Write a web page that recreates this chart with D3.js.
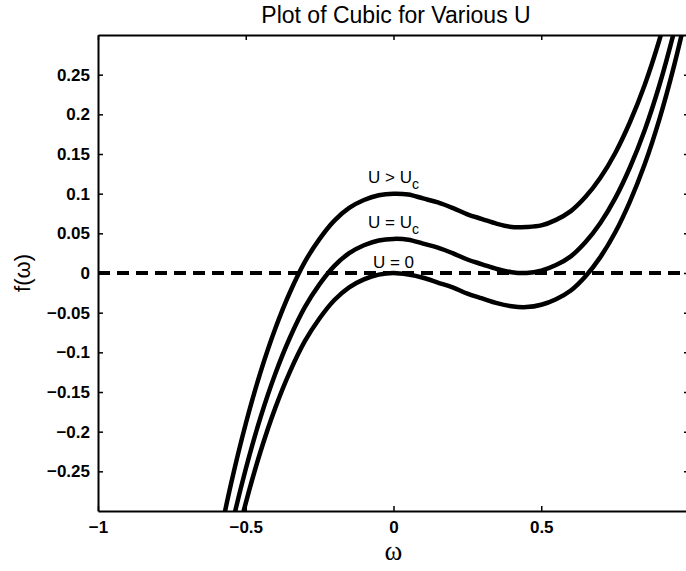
<!DOCTYPE html>
<html>
<head>
<meta charset="utf-8">
<script src="https://cdn.jsdelivr.net/npm/d3@7"></script>
<style>
  body { margin: 0; background: #fff; }
  svg { display: block; }
  text { font-family: "Liberation Sans", Arial, Helvetica, sans-serif; fill: #000; }
</style>
</head>
<body>
<svg id="chart" width="686" height="571"></svg>
<script>
//***************************************************************************
// Data

var omega = [-0.60, -0.55, -0.50, -0.45, -0.40, -0.35, -0.30, -0.25, -0.20, -0.15,
             -0.10, -0.05, 0.00, 0.05, 0.10, 0.15, 0.20, 0.25, 0.30, 0.35,
             0.40, 0.45, 0.50, 0.55, 0.60, 0.65, 0.70, 0.75, 0.80, 0.85,
             0.90, 0.95, 1.00];

// U = 0
var fU0 = [-0.454, -0.366, -0.290, -0.225, -0.170, -0.124, -0.086, -0.057, -0.034, -0.018,
           -0.008, -0.002, 0.000, -0.002, -0.006, -0.012, -0.018, -0.026, -0.032, -0.038,
           -0.042, -0.043, -0.040, -0.033, -0.022, -0.004, 0.020, 0.051, 0.090, 0.137,
           0.194, 0.262, 0.340];

// U = Uc
var fUc = [-0.411, -0.323, -0.247, -0.182, -0.127, -0.081, -0.043, -0.014, 0.009, 0.025,
           0.035, 0.041, 0.043, 0.042, 0.037, 0.032, 0.025, 0.017, 0.011, 0.005,
           0.001, 0.000, 0.003, 0.010, 0.021, 0.039, 0.063, 0.094, 0.133, 0.180,
           0.237, 0.305, 0.383];

// U > Uc
var fUbig = [-0.354, -0.266, -0.190, -0.125, -0.070, -0.024, 0.014, 0.043, 0.066, 0.082,
             0.092, 0.098, 0.100, 0.099, 0.094, 0.089, 0.082, 0.074, 0.068, 0.062,
             0.058, 0.058, 0.060, 0.067, 0.078, 0.096, 0.120, 0.151, 0.190, 0.237,
             0.294, 0.362, 0.440];

var xTicks = [-1, -0.5, 0, 0.5];
var yTicks = [-0.25, -0.2, -0.15, -0.1, -0.05, 0, 0.05, 0.1, 0.15, 0.2, 0.25];

var curveLabels = [
  { name: "U > U", sub: "c", x: 0.0, y: 0.114 },
  { name: "U = U", sub: "c", x: 0.0, y: 0.057 },
  { name: "U = 0", sub: "",  x: 0.0, y: 0.006 }
];

//***************************************************************************
// Layout

var svg = d3.select("#chart");
var plotLeft = 98, plotRight = 689, plotTop = 35, plotBottom = 511;

var x = d3.scaleLinear().domain([-1, 1]).range([plotLeft, plotRight]);
var y = d3.scaleLinear().domain([-0.3, 0.3]).range([plotBottom, plotTop]);

svg.append("defs").append("clipPath").attr("id", "plotclip")
  .append("rect")
  .attr("x", plotLeft).attr("y", plotTop)
  .attr("width", plotRight - plotLeft).attr("height", plotBottom - plotTop);

//***************************************************************************
// Axes (ticks pointing inwards, box all round)

function noText(g) { g.selectAll("text").remove(); }

svg.append("g")
  .attr("class", "xaxis")
  .attr("transform", "translate(0," + plotBottom + ")")
  .call(d3.axisBottom(x).tickValues(xTicks).tickSize(-5).tickSizeOuter(0).tickPadding(10)
    .tickFormat(function(d){ return d3.format("")(d); }));

svg.append("g")
  .attr("transform", "translate(0," + plotTop + ")")
  .call(d3.axisTop(x).tickValues(xTicks).tickSize(-5).tickSizeOuter(0))
  .call(noText);

svg.append("g")
  .attr("class", "yaxis")
  .attr("transform", "translate(" + plotLeft + ",0)")
  .call(d3.axisLeft(y).tickValues(yTicks).tickSize(-5).tickSizeOuter(0).tickPadding(8)
    .tickFormat(function(d){ return d3.format("")(+d.toFixed(2)); }));

svg.append("g")
  .attr("transform", "translate(" + plotRight + ",0)")
  .call(d3.axisRight(y).tickValues(yTicks).tickSize(-5).tickSizeOuter(0))
  .call(noText);

svg.selectAll(".domain").attr("stroke", "#000").attr("stroke-width", 2);
svg.selectAll(".tick line").attr("stroke", "#000").attr("stroke-width", 1.5);
svg.selectAll(".xaxis text, .yaxis text")
  .attr("font-size", 17).attr("font-weight", "bold").attr("fill", "#000")
  .style("font-family", "'Liberation Sans', Arial, sans-serif");

//***************************************************************************
// Dashed zero line and the three cubics

var plot = svg.append("g").attr("clip-path", "url(#plotclip)");

plot.append("line")
  .attr("x1", x(-1)).attr("x2", x(1))
  .attr("y1", y(0)).attr("y2", y(0))
  .attr("stroke", "#000").attr("stroke-width", 4)
  .attr("stroke-dasharray", "12,7");

var line = d3.line()
  .x(function(d){ return x(d[0]); })
  .y(function(d){ return y(d[1]); })
  .curve(d3.curveCatmullRom);

[fU0, fUc, fUbig].forEach(function(series) {
  plot.append("path")
    .datum(omega.map(function(w, i){ return [w, series[i]]; }))
    .attr("fill", "none")
    .attr("stroke", "#000")
    .attr("stroke-width", 4.5)
    .attr("d", line);
});

//***************************************************************************
// Curve labels

curveLabels.forEach(function(l) {
  var t = svg.append("text")
    .attr("x", x(l.x)).attr("y", y(l.y))
    .attr("text-anchor", "middle")
    .attr("font-size", 17);
  t.append("tspan").text(l.name);
  if (l.sub) {
    t.append("tspan").attr("dy", 6).attr("font-size", 14).text(l.sub);
  }
});

//***************************************************************************
// Titles

svg.append("text")
  .attr("x", 396).attr("y", 23)
  .attr("text-anchor", "middle")
  .attr("font-size", 23)
  .text("Plot of Cubic for Various U");

svg.append("text")
  .attr("x", x(0)).attr("y", 560)
  .attr("text-anchor", "middle")
  .attr("font-size", 27)
  .style("font-family", "'Liberation Serif', 'Times New Roman', serif")
  .text("\u03c9");

svg.append("text")
  .attr("transform", "translate(30," + y(0) + ") rotate(-90)")
  .attr("text-anchor", "middle")
  .attr("font-size", 22)
  .text("f(\u03c9)");
</script>
</body>
</html>
